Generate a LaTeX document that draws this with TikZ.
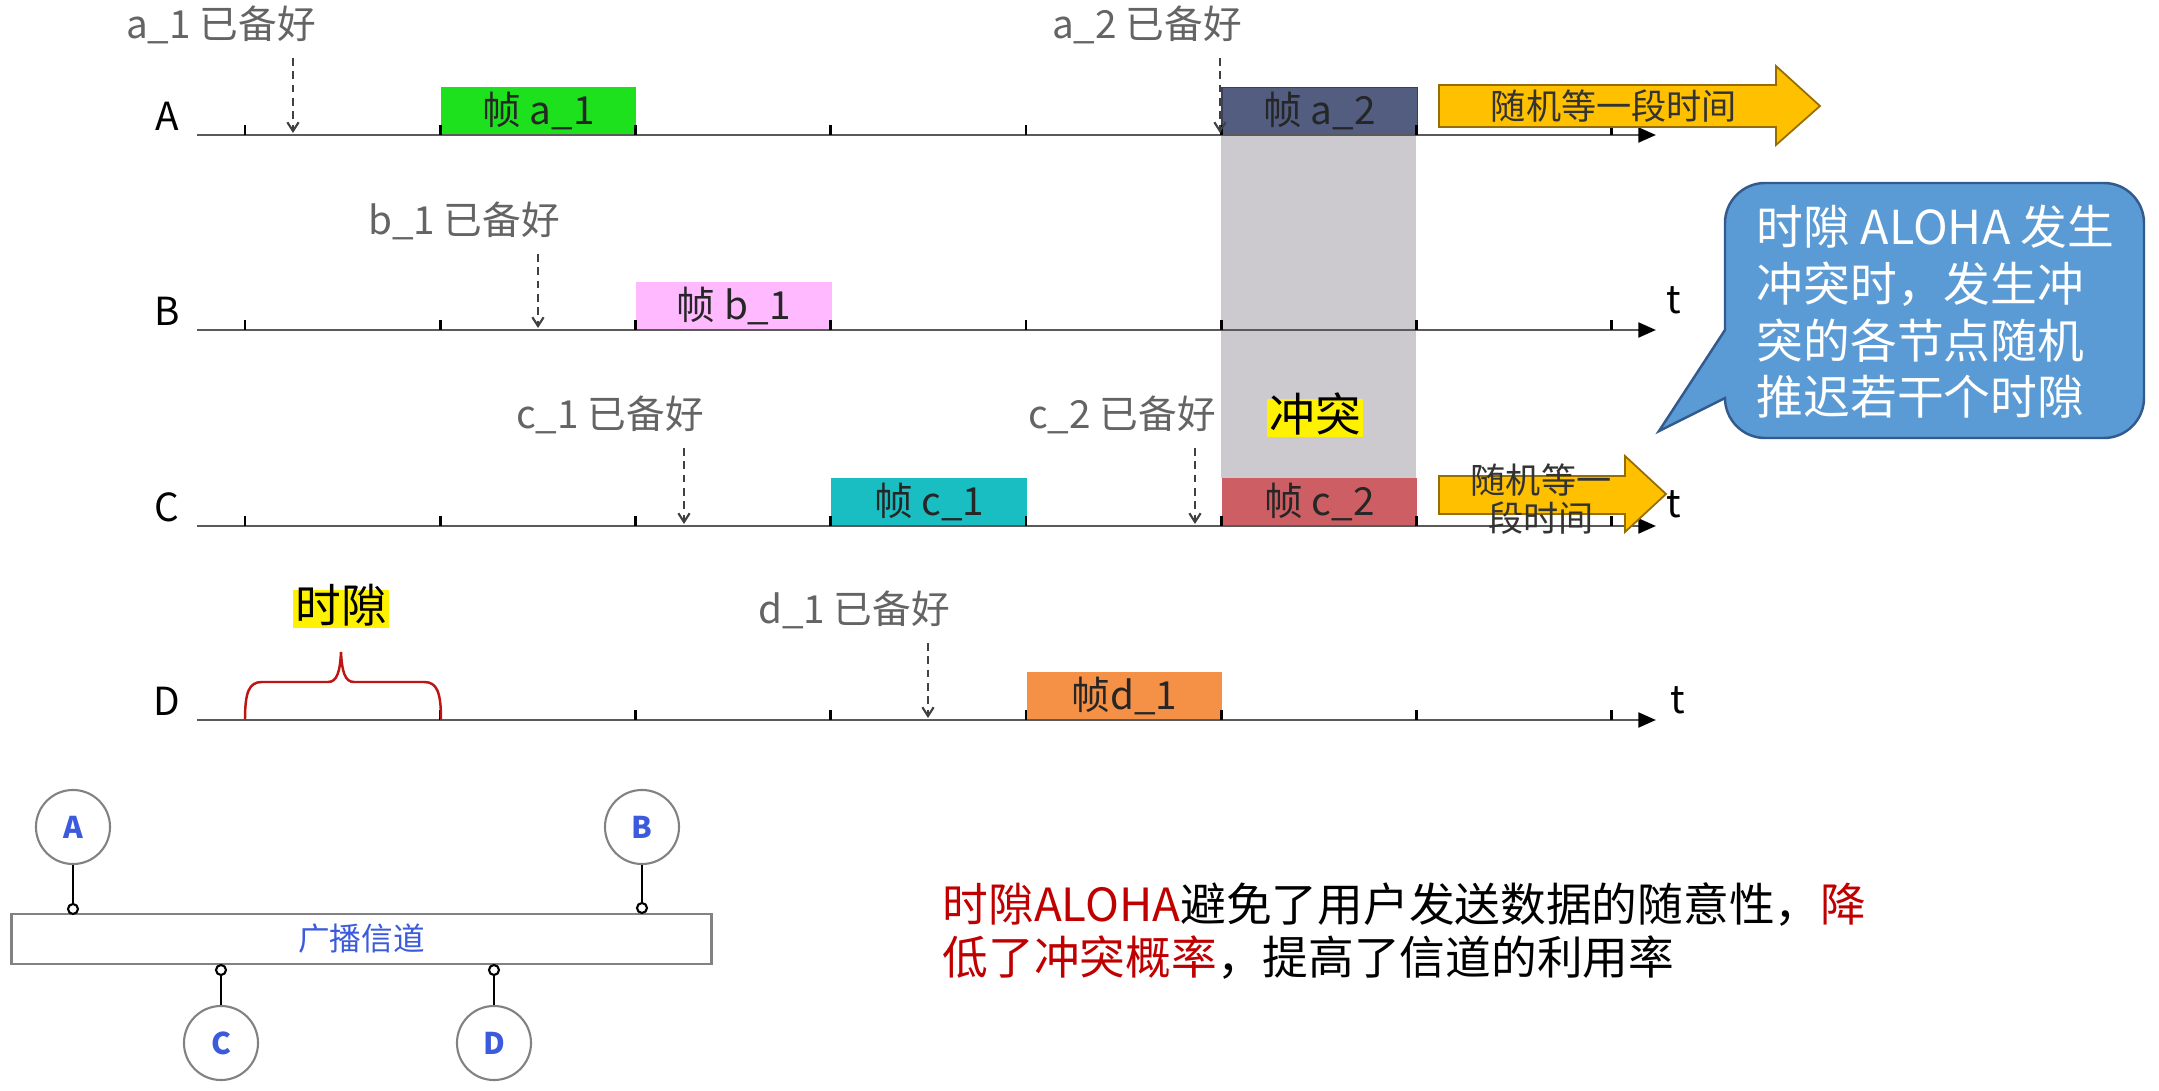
\documentclass[tikz,border=0pt]{standalone}
\usepackage{fontspec}
\setmainfont{Noto Sans CJK SC}
\usetikzlibrary{arrows.meta}
\definecolor{fa1}{RGB}{30,225,30}
\definecolor{fb1}{RGB}{255,185,255}
\definecolor{fc1}{RGB}{25,190,195}
\definecolor{fa2}{RGB}{82,93,128}
\definecolor{fc2}{RGB}{205,95,100}
\definecolor{fd1}{RGB}{245,145,70}
\definecolor{collgray}{RGB}{204,202,206}
\definecolor{yfill}{RGB}{255,192,0}
\definecolor{ydraw}{RGB}{150,110,0}
\definecolor{cfill}{RGB}{91,155,213}
\definecolor{cdraw}{RGB}{50,90,140}
\definecolor{hl}{RGB}{192,0,0}
\definecolor{readygray}{RGB}{100,100,100}
\definecolor{bluetxt}{RGB}{60,90,220}
\definecolor{bracered}{RGB}{190,20,20}
\definecolor{axisgray}{RGB}{90,90,90}
\definecolor{ringgray}{RGB}{130,130,130}
\begin{document}
\begin{tikzpicture}[x=0.01cm,y=-0.01cm,
  tline/.style={draw=axisgray,line width=0.75pt,-{Triangle[length=5pt,width=4.2pt,color=black]}},
  tickst/.style={draw=black,line width=0.8pt},
  rowlab/.style={font=\fontsize{11}{13}\selectfont,inner sep=1pt},
  tlab/.style={font=\fontsize{11}{13}\selectfont,inner sep=1pt},
  frame/.style={anchor=south west,minimum width=1.9525cm,minimum height=0.47cm,inner sep=0pt,
    font=\fontsize{11}{13}\selectfont,text=black!85},
  ready/.style={text=readygray,font=\fontsize{11}{13}\selectfont,text height=0.85em,text depth=0.12em,inner sep=4pt},
  rarrow/.style={draw=black!75,line width=0.6pt,dash pattern=on 2.2pt off 1.6pt,
    -{Straight Barb[length=2.5pt,width=3.2pt]}},
  yarrow/.style={fill=yfill,draw=ydraw,line width=0.5pt},
  ytext/.style={font=\fontsize{10}{10.8}\selectfont,text=black!80,align=center,inner sep=0pt},
  hilite/.style={fill=yellow,inner xsep=0.6pt,inner ysep=0.4pt,font=\fontsize{13}{15}\selectfont,
    text height=0.88em,text depth=0.12em},
  station/.style={circle,draw=ringgray,line width=0.6pt,minimum size=0.74cm,inner sep=0pt,
    text=bluetxt,font=\fontsize{8.5}{10}\selectfont\bfseries},
  port/.style={circle,draw=black,fill=white,line width=0.6pt,minimum size=0.1cm,inner sep=0pt}]
\useasboundingbox[fill=white] (0,0) rectangle (2159,1091);

% collision zone
\fill[collgray] (1221,135) rectangle (1416,478);

% frames
\node[frame,fill=fa1] (fra1) at (440.25,135) {帧 a\_1};
\node[frame,fill=fa2,draw=fa2!70!black,line width=0.4pt] (fra2) at (1221.25,135) {帧 a\_2};
\node[frame,fill=fb1] (frb1) at (635.5,330) {帧 b\_1};
\node[frame,fill=fc1] (frc1) at (830.75,526) {帧 c\_1};
\node[frame,fill=fc2] (frc2) at (1221.25,526) {帧 c\_2};
\node[frame,fill=fd1] (frd1) at (1026,720) {帧d\_1};

% timelines with ticks
\foreach \n/\y in {A/135,B/330,C/526,D/720} {
  \coordinate (\n s) at (197,\y);
  \coordinate (\n e) at (1656,\y);
  \draw[tline] (\n s) -- (\n e);
  \node[rowlab] (lab\n) at (167,\y-19) {\n};
  \foreach \k in {0,...,7} {
    \draw[tickst] (245+195.25*\k,\y) -- ++(0,-10);
  }
}

% t labels
\node[tlab] (tB) at (1674,300) {t};
\node[tlab] (tC) at (1674,504) {t};
\node[tlab] (tD) at (1678,700) {t};

% ready labels and arrows
\node[ready] (ra1) at (221,26) {a\_1 已备好};
\node[ready] (ra2) at (1147,26) {a\_2 已备好};
\node[ready] (rb1) at (464,222) {b\_1 已备好};
\node[ready] (rc1) at (610,416) {c\_1 已备好};
\node[ready] (rc2) at (1122,416) {c\_2 已备好};
\node[ready] (rd1) at (854,611) {d\_1 已备好};
\coordinate (pa1) at (293,133);
\coordinate (pa2) at (1220,133);
\coordinate (pb1) at (538,328);
\coordinate (pc1) at (684,524);
\coordinate (pc2) at (1195,524);
\coordinate (pd1) at (928,718);
\draw[rarrow] (ra1.south -| pa1) -- (pa1);
\draw[rarrow] (ra2.south -| pa2) -- (pa2);
\draw[rarrow] (rb1.south -| pb1) -- (pb1);
\draw[rarrow] (rc1.south -| pc1) -- (pc1);
\draw[rarrow] (rc2.south -| pc2) -- (pc2);
\draw[rarrow] (rd1.south -| pd1) -- (pd1);

% collision label
\node[hilite] (coll) at (1315,418) {冲突};

% random wait arrows
\draw[yarrow] (1439,85) -- (1776,85) -- (1776,66) -- (1820,106) -- (1776,145) -- (1776,127) -- (1439,127) -- cycle;
\node[ytext] (waitA) at (1614,106) {随机等一段时间};
\draw[yarrow] (1439,476) -- (1625,476) -- (1625,456) -- (1666,494) -- (1625,532) -- (1625,514) -- (1439,514) -- cycle;
\node[ytext,font=\fontsize{10}{10.8}\selectfont] (waitC) at (1541,499) {随机等一\\段时间};

% callout
\draw[fill=cfill,draw=cdraw,line width=0.7pt]
  (1725,330) -- (1725,223) .. controls (1725,201) and (1743,183) .. (1765,183)
  -- (2104,183) .. controls (2126,183) and (2144,201) .. (2144,223)
  -- (2144,398) .. controls (2144,420) and (2126,438) .. (2104,438)
  -- (1765,438) .. controls (1743,438) and (1725,420) .. (1725,398)
  -- (1659,431) -- cycle;
\node[anchor=west,align=left,text=white,inner sep=0pt,font=\fontsize{13.3}{16.1}\selectfont] (note) at (1756,312)
  {时隙 ALOHA 发生\\冲突时，发生冲\\突的各节点随机\\推迟若干个时隙};

% slot brace
\draw[bracered,line width=0.7pt]
  (245,720) .. controls (245,692) and (249,682) .. (262,682) -- (328,682)
  .. controls (337,682) and (340,672) .. (341,652)
  .. controls (342,672) and (345,682) .. (354,682) -- (424,682)
  .. controls (437,682) and (441,692) .. (441,720);
\node[hilite] (slot) at (341,609) {时隙};

% bus diagram
\node[draw=ringgray,line width=0.7pt,minimum width=7.0cm,minimum height=0.5cm,inner sep=0pt,
  text=bluetxt,font=\fontsize{9}{11}\selectfont] (bus) at (361.5,939) {广播信道};
\node[station] (sA) at (73,827) {A};
\node[station] (sB) at (642,827) {B};
\node[station] (sC) at (221,1043) {C};
\node[station] (sD) at (494,1043) {D};
\node[port] (pA) at (73,909) {};
\node[port] (pB) at (642,908) {};
\node[port] (pC) at (221,970) {};
\node[port] (pD) at (494,970) {};
\draw[line width=0.6pt] (sA) -- (pA);
\draw[line width=0.6pt] (sB) -- (pB);
\draw[line width=0.6pt] (sC) -- (pC);
\draw[line width=0.6pt] (sD) -- (pD);

% summary
\node[anchor=west,align=left,inner sep=0pt,font=\fontsize{13}{15.1}\selectfont] (summary) at (942,931)
  {\textcolor{hl}{时隙ALOHA}避免了用户发送数据的随意性，\textcolor{hl}{降}\\\textcolor{hl}{低了冲突概率}，提高了信道的利用率};
\end{tikzpicture}
\end{document}
